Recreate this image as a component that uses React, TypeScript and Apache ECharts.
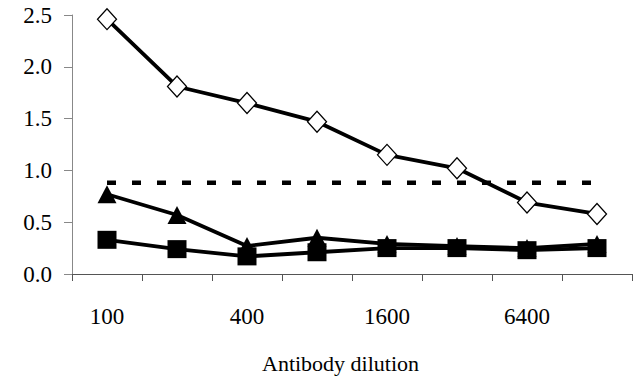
import React, { useEffect, useRef } from "react";
import * as echarts from "echarts";

const categories = ["100", "200", "400", "800", "1600", "3200", "6400", "12800"];
const diamondValues = [2.46, 1.81, 1.65, 1.47, 1.15, 1.02, 0.69, 0.58];
const triangleValues = [0.77, 0.57, 0.27, 0.35, 0.29, 0.27, 0.25, 0.29];
const squareValues = [0.33, 0.24, 0.17, 0.21, 0.25, 0.25, 0.23, 0.25];
const cutoffValues = [0.88, 0.88, 0.88, 0.88, 0.88, 0.88, 0.88, 0.88];
const xAxisTitle = "Antibody dilution";

const FONT = "Liberation Serif";

export default function App() {
  const ref = useRef<HTMLDivElement>(null);
  useEffect(() => {
    if (!ref.current) return;
    const chart = echarts.init(ref.current, null, { renderer: "svg" });
    chart.setOption({
      animation: false,
      backgroundColor: "#ffffff",
      textStyle: { fontFamily: FONT },
      grid: { left: 72, right: 8, top: 15, bottom: 107, containLabel: false },
      xAxis: {
        type: "category",
        data: categories,
        boundaryGap: true,
        axisLine: { show: true, lineStyle: { color: "#555555", width: 1 } },
        axisTick: { show: true, interval: 0, length: 7, lineStyle: { color: "#555555", width: 1 } },
        axisLabel: {
          interval: 1,
          margin: 31,
          color: "#000000",
          fontFamily: FONT,
          fontSize: 23,
        },
        splitLine: { show: false },
      },
      yAxis: {
        type: "value",
        min: 0,
        max: 2.5,
        interval: 0.5,
        axisLine: { show: true, lineStyle: { color: "#888888", width: 1 } },
        axisTick: { show: true, length: 8, lineStyle: { color: "#888888", width: 1 } },
        axisLabel: {
          margin: 20,
          color: "#000000",
          fontFamily: FONT,
          fontSize: 23,
          formatter: (v: number) => v.toFixed(1),
        },
        splitLine: { show: false },
      },
      graphic: [
        {
          type: "text",
          left: 262,
          top: 352,
          style: { text: xAxisTitle, fontFamily: FONT, fontSize: 22, fill: "#000000" },
        },
      ],
      series: [
        {
          type: "line",
          data: cutoffValues,
          symbol: "none",
          lineStyle: { color: "#000000", width: 4.5, type: [9, 16], cap: "butt" },
          z: 1,
        },
        {
          type: "line",
          data: diamondValues,
          symbol: "diamond",
          symbolSize: [19, 21],
          showSymbol: true,
          lineStyle: { color: "#000000", width: 3.8 },
          itemStyle: { color: "#ffffff", borderColor: "#000000", borderWidth: 1.3 },
          z: 3,
        },
        {
          type: "line",
          data: triangleValues,
          symbol: "triangle",
          symbolSize: [19, 18],
          lineStyle: { color: "#000000", width: 3.8 },
          itemStyle: { color: "#000000", borderWidth: 0 },
          z: 3,
        },
        {
          type: "line",
          data: squareValues,
          symbol: "rect",
          symbolSize: [19, 18],
          lineStyle: { color: "#000000", width: 3.8 },
          itemStyle: { color: "#000000", borderWidth: 0 },
          z: 4,
        },
      ],
    });
    return () => chart.dispose();
  }, []);
  return <div ref={ref} style={{ width: 640, height: 381, position: "absolute", left: 0, top: 0 }} />;
}
